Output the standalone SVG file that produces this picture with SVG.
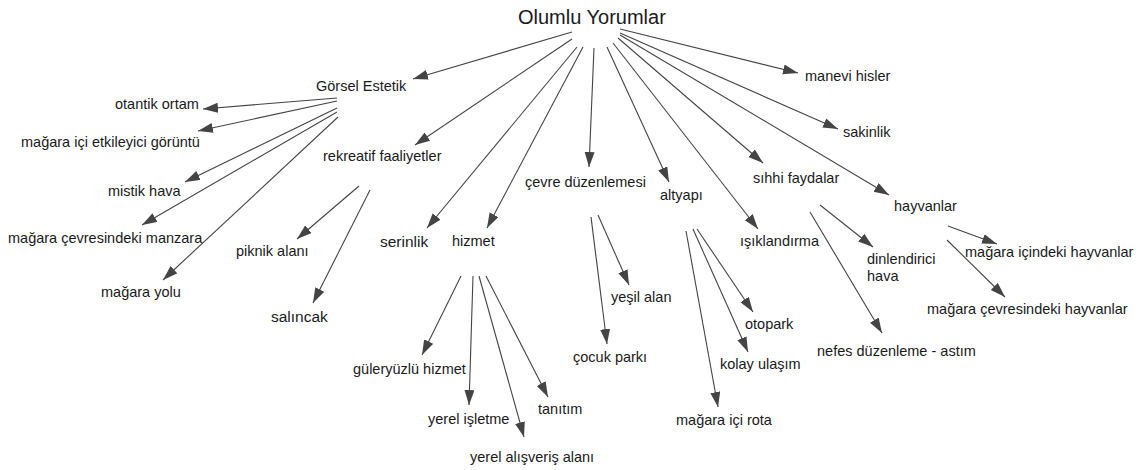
<svg xmlns="http://www.w3.org/2000/svg" width="1141" height="470" viewBox="0 0 1141 470">
<style>
text{font-family:"Liberation Sans",Arial,sans-serif;font-size:14.5px;fill:#1a1a1a}
.t{font-size:20px}
.b{font-size:15.5px}
#edges line{stroke:#444;stroke-width:1.1;marker-end:url(#ah)}
</style>
<defs>
<marker id="ah" markerUnits="userSpaceOnUse" markerWidth="16" markerHeight="11" refX="15" refY="5" orient="auto">
<path d="M0,0 L15,5 L0,10 z" fill="#444"/>
</marker>
</defs>
<rect width="1141" height="470" fill="#fff"/>
<g id="edges">
<line x1="572" y1="32" x2="413" y2="79"/>
<line x1="572" y1="39" x2="415" y2="145"/>
<line x1="577" y1="47" x2="427" y2="228"/>
<line x1="583" y1="47" x2="487" y2="228"/>
<line x1="594" y1="48" x2="589" y2="167"/>
<line x1="607" y1="47" x2="669" y2="182"/>
<line x1="613" y1="43" x2="758" y2="229"/>
<line x1="618" y1="38" x2="763" y2="163"/>
<line x1="620" y1="35" x2="889" y2="195"/>
<line x1="620" y1="33" x2="838" y2="129"/>
<line x1="620" y1="29" x2="798" y2="73"/>
<line x1="337" y1="98" x2="203" y2="109"/>
<line x1="337" y1="101" x2="198" y2="131"/>
<line x1="337" y1="108" x2="185" y2="182"/>
<line x1="337" y1="112" x2="142" y2="225"/>
<line x1="338" y1="117" x2="163" y2="280"/>
<line x1="359" y1="186" x2="297" y2="239"/>
<line x1="370" y1="190" x2="313" y2="303"/>
<line x1="461" y1="276" x2="422" y2="355"/>
<line x1="473" y1="276" x2="469" y2="405"/>
<line x1="479" y1="276" x2="524" y2="437"/>
<line x1="486" y1="276" x2="548" y2="397"/>
<line x1="591" y1="217" x2="607" y2="344"/>
<line x1="598" y1="215" x2="629" y2="285"/>
<line x1="686" y1="231" x2="718" y2="407"/>
<line x1="693" y1="229" x2="748" y2="352"/>
<line x1="697" y1="229" x2="753" y2="312"/>
<line x1="810" y1="212" x2="882" y2="333"/>
<line x1="820" y1="205" x2="873" y2="247"/>
<line x1="948" y1="226" x2="997" y2="244"/>
<line x1="947" y1="240" x2="1005" y2="297"/>
</g>
<g id="n-root"><text class="t" x="518" y="24">Olumlu Yorumlar</text></g>
<g id="n-gorsel"><text x="316" y="91">Görsel Estetik</text></g>
<g id="n-otantik"><text x="115" y="109">otantik ortam</text></g>
<g id="n-magaraici"><text x="21" y="147">mağara içi etkileyici görüntü</text></g>
<g id="n-mistik"><text x="108" y="196">mistik hava</text></g>
<g id="n-manzara"><text x="8" y="243">mağara çevresindeki manzara</text></g>
<g id="n-yolu"><text x="101" y="297">mağara yolu</text></g>
<g id="n-rekreatif"><text x="323" y="161">rekreatif faaliyetler</text></g>
<g id="n-piknik"><text x="236" y="256">piknik alanı</text></g>
<g id="n-salincak"><text class="b" x="271" y="322">salıncak</text></g>
<g id="n-serinlik"><text class="b" x="380" y="247">serinlik</text></g>
<g id="n-hizmet"><text x="452" y="246">hizmet</text></g>
<g id="n-guler"><text x="353" y="374">güleryüzlü hizmet</text></g>
<g id="n-isletme"><text x="428" y="424">yerel işletme</text></g>
<g id="n-alisveris"><text x="470" y="462">yerel alışveriş alanı</text></g>
<g id="n-tanitim"><text x="538" y="414">tanıtım</text></g>
<g id="n-cevre"><text x="525" y="187">çevre düzenlemesi</text></g>
<g id="n-yesil"><text x="611" y="302">yeşil alan</text></g>
<g id="n-cocuk"><text x="573" y="362">çocuk parkı</text></g>
<g id="n-altyapi"><text x="660" y="200">altyapı</text></g>
<g id="n-isik"><text x="740" y="246">ışıklandırma</text></g>
<g id="n-otopark"><text x="745" y="329">otopark</text></g>
<g id="n-kolay"><text x="720" y="369">kolay ulaşım</text></g>
<g id="n-rota"><text x="676" y="425">mağara içi rota</text></g>
<g id="n-sihhi"><text x="753" y="183">sıhhi faydalar</text></g>
<g id="n-dinlendirici"><text x="867" y="264">dinlendirici</text><text x="867" y="281">hava</text></g>
<g id="n-nefes"><text x="817" y="356">nefes düzenleme - astım</text></g>
<g id="n-manevi"><text x="805" y="81">manevi hisler</text></g>
<g id="n-sakinlik"><text x="843" y="137">sakinlik</text></g>
<g id="n-hayvanlar"><text x="894" y="211">hayvanlar</text></g>
<g id="n-icindeki"><text x="965" y="257">mağara içindeki hayvanlar</text></g>
<g id="n-cevresindeki"><text x="927" y="314">mağara çevresindeki hayvanlar</text></g>
</svg>
